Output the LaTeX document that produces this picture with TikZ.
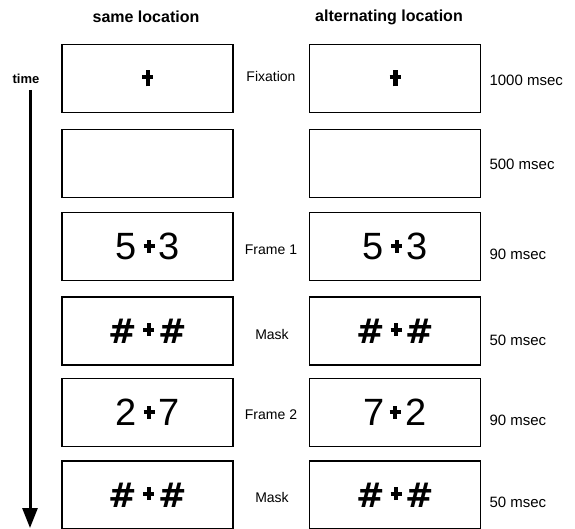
\documentclass[tikz,border=0pt]{standalone}
\usepackage{fontspec}
\setmainfont{Liberation Sans}
\newfontfamily\dvsans{DejaVu Sans}
\usetikzlibrary{arrows.meta}
\newcommand{\crs}{\raisebox{7pt}{\makebox[11pt][l]{\rlap{\hspace{3.5pt}\rule{4pt}{13pt}}\raisebox{4.5pt}{\rule{11pt}{4pt}}}}}
\newcommand{\fixcrs}{\raisebox{-7pt}{\makebox[11pt][l]{\rlap{\hspace{3.5pt}\rule{4.5pt}{16pt}}\raisebox{7pt}{\rule{11pt}{4.5pt}}}}}
\newcommand{\hsh}{{\dvsans\bfseries\fontsize{34}{36}\selectfont\#}}
\begin{document}
\begin{tikzpicture}[x=1pt,y=-1pt,
  frame/.style={draw=black,line width=1.6pt,minimum width=171pt,minimum height=68pt,inner sep=0pt},
  stim/.style={font=\fontsize{38}{40}\selectfont},
  lab/.style={font=\fontsize{14}{16}\selectfont},
  dur/.style={font=\fontsize{15}{17}\selectfont,anchor=west},
  head/.style={font=\fontsize{16}{18}\selectfont\bfseries}]
\useasboundingbox (0,0) rectangle (575,529);
% headers
\node[head] (hL) at (146,17) {same location};
\node[head] (hR) at (389,17) {alternating location};
\node[font=\fontsize{13}{15}\selectfont\bfseries] (time) at (26,79) {time};
% left column
\node[frame] (L1) at (147.5,78.5) {\fixcrs};
\node[frame] (L2) at (147.5,163.5) {};
\node[frame,stim] (L3) at (147.5,246.5) {5\hspace{7pt}\crs\hspace{4pt}3};
\node[frame,stim] (L4) at (147.5,331) {\hsh\hspace{6pt}\crs\hspace{4pt}\hsh};
\node[frame,stim] (L5) at (147.5,412.5) {2\hspace{7pt}\crs\hspace{4pt}7};
\node[frame,stim] (L6) at (147.5,495) {\hsh\hspace{6pt}\crs\hspace{4pt}\hsh};
% right column
\node[frame] (R1) at (395,78.5) {\fixcrs};
\node[frame] (R2) at (395,163.5) {};
\node[frame,stim] (R3) at (395,246.5) {5\hspace{7pt}\crs\hspace{4pt}3};
\node[frame,stim] (R4) at (395,331) {\hsh\hspace{6pt}\crs\hspace{4pt}\hsh};
\node[frame,stim] (R5) at (395,412.5) {7\hspace{5pt}\crs\hspace{5pt}2};
\node[frame,stim] (R6) at (395,495) {\hsh\hspace{6pt}\crs\hspace{4pt}\hsh};
% middle labels
\node[lab] (m1) at (271,76) {Fixation};
\node[lab] (m3) at (271,250) {Frame 1};
\node[lab] (m4) at (272,334) {Mask};
\node[lab] (m5) at (271,415) {Frame 2};
\node[lab] (m6) at (272,497) {Mask};
% durations
\node[dur] (d1) at (486,80) {1000 msec};
\node[dur] (d2) at (486,164) {500 msec};
\node[dur] (d3) at (486,254) {90 msec};
\node[dur] (d4) at (486,340) {50 msec};
\node[dur] (d5) at (486,420) {90 msec};
\node[dur] (d6) at (486,502) {50 msec};
% time arrow
\coordinate (t0) at (30,90);
\coordinate (t1) at (30,528);
\draw[line width=3pt,-{Triangle[length=20pt,width=15pt]}] (t0) -- (t1);
\end{tikzpicture}
\end{document}
